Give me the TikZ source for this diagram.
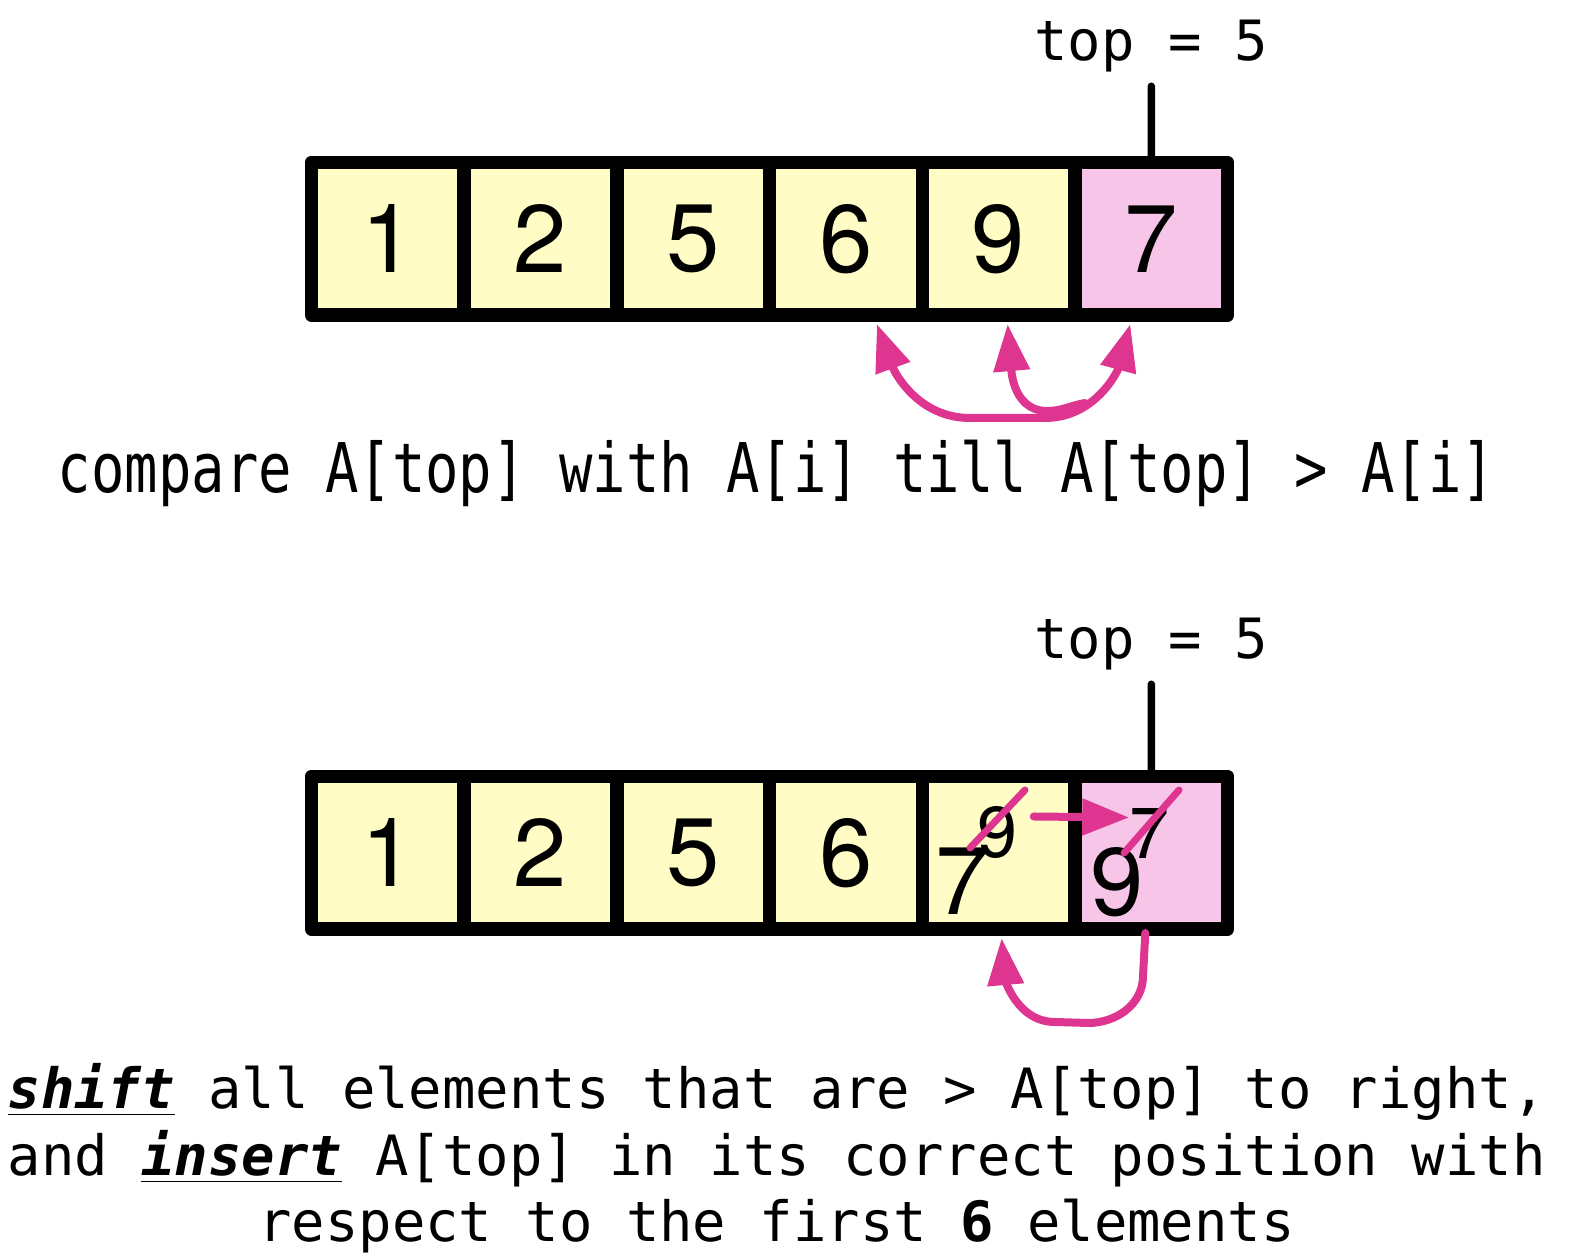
\documentclass[tikz,border=0pt]{standalone}
\usepackage{fontspec}
\setmonofont{DejaVu Sans Mono}
\newfontfamily\tallmono[FakeStretch=0.81]{DejaVu Sans Mono}
\newfontfamily\digitfont{TeX Gyre Heros}
\usetikzlibrary{arrows.meta}
\definecolor{cellyellow}{RGB}{255,253,197}
\definecolor{cellpink}{RGB}{247,197,231}
\definecolor{arrowpink}{RGB}{222,53,144}
\tikzset{
  cell/.style={draw,line width=1.35mm,line join=round,minimum size=15.27mm,
    inner sep=0,outer sep=0,font=\digitfont\fontsize{27.3pt}{27.3pt}\selectfont},
  small/.style={inner sep=0,font=\digitfont\fontsize{20.5pt}{20.5pt}\selectfont},
  big/.style={inner sep=0,font=\digitfont\fontsize{27.3pt}{27.3pt}\selectfont},
  label/.style={inner sep=0,anchor=base,font=\ttfamily\fontsize{15.8pt}{19pt}\selectfont},
  tick/.style={line width=0.75mm,line cap=round,shorten <=1.3mm},
  pline/.style={draw=arrowpink,line width=0.8mm,line cap=round},
  strike/.style={draw=arrowpink,line width=0.7mm,line cap=round}
}
\begin{document}
\begin{tikzpicture}[>={Triangle[length=4.7mm,width=3.5mm]}]
\useasboundingbox (0,0) rectangle (15.71,12.56);

% first array
\foreach \v/\c [count=\i] in {1/cellyellow,2/cellyellow,5/cellyellow,6/cellyellow,9/cellyellow,7/cellpink}
  \node[cell,fill=\c] (a\i) at (2.351+1.527*\i,10.1725) {\v};
\node[label] (top1) at (11.513,11.95) {top = 5};
\draw[tick] (top1) -- (a6.north);

\draw[pline,<->] ([shift={(0.31,-0.09)}]a4.south) to[out=-70,in=180] (9.70,8.38)
  -- (10.45,8.38) to[out=0,in=-105] ([shift={(-0.21,-0.09)}]a6.south);
\draw[pline,->] (10.85,8.53) to[out=190,in=0] (10.47,8.45) to[out=180,in=-85] ([shift={(0.09,-0.09)}]a5.south);

\node[inner sep=0,anchor=base,font=\tallmono\fontsize{19.5pt}{24pt}\selectfont] (cmp) at (7.765,7.63)
  {compare A[top] with A[i] till A[top] > A[i]};

% second array
\foreach \v/\c [count=\i] in {1/cellyellow,2/cellyellow,5/cellyellow,6/cellyellow,/cellyellow,/cellpink}
  \node[cell,fill=\c] (b\i) at (2.351+1.527*\i,4.0325) {\v};
\node[label] (top2) at (11.513,5.97) {top = 5};
\draw[tick] (top2) -- (b6.north);

\node[small] (o9) at (9.975,4.235) {9};
\node[small] (o7) at (11.50,4.225) {7};
\node[big] (n7) at (9.62,3.745) {7};
\node[big] (n9) at (11.17,3.735) {9};
\draw[strike] (10.25,4.66) -- (9.70,4.08);
\draw[strike] (11.79,4.66) -- (11.24,4.03);
\draw[pline,->] ([shift={(0.155,0.16)}]o9.east) -- ([yshift=1.6mm]o7.west);

\draw[pline,->] ([shift={(-0.06,-0.04)}]b6.south) -- (11.43,2.80) to[out=-90,in=0] (10.88,2.33)
  -- (10.55,2.34) to[out=180,in=-85] ([shift={(0.03,-0.09)}]b5.south);

\node[label,anchor=base west] (l1) at (0.07,1.47)
  {\underline{\textbf{\textit{shift}}} all elements that are > A[top] to right,};
\node[label,anchor=base west] (l2) at (0.07,0.80)
  {and \underline{\textbf{\textit{insert}}} A[top] in its correct position with};
\node[label] (l3) at (7.765,0.15) {respect to the first \textbf{6} elements};
\end{tikzpicture}
\end{document}
